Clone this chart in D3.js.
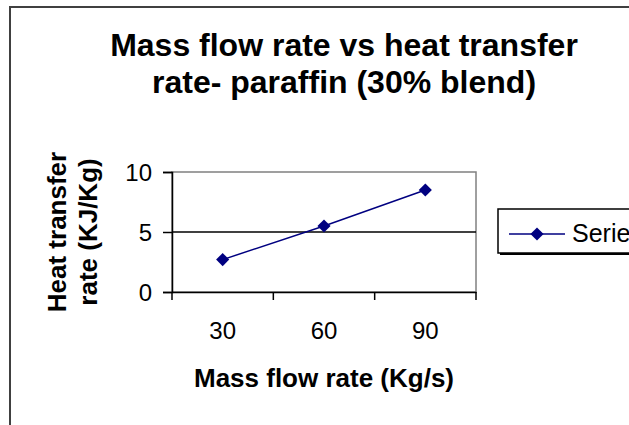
<!DOCTYPE html>
<html lang="en">
<head>
    <meta charset="UTF-8">
    <title>Mass flow rate vs heat transfer rate</title>
    <script type="text/javascript" src="https://cdnjs.cloudflare.com/ajax/libs/d3/7.8.5/d3.min.js"></script>
    <style>
        html, body { margin: 0; padding: 0; background: #fff; overflow: hidden; }
        text { font-family: "Liberation Sans", Arial, sans-serif; }
    </style>
</head>
<body>
    <div id="draw-here"></div>

    <script>
        var w = 629;
        var h = 425;

        // data
        var categories = ["30", "60", "90"];
        var heatRate = [2.7, 5.5, 8.5];
        var yTicks = [0, 5, 10];
        var seriesName = "Series1";
        var titleLines = ["Mass flow rate vs heat transfer", "rate- paraffin (30% blend)"];
        var yTitleLines = ["Heat transfer", "rate (KJ/Kg)"];
        var xTitle = "Mass flow rate (Kg/s)";

        var plot = {left: 172, right: 476, top: 172, bottom: 292};

        var svg = d3.select("#draw-here")
            .append("svg")
            .attr("width", w)
            .attr("height", h);

        // chart area frame (runs off the right and bottom edge)
        svg.append("rect")
            .attr("x", 10).attr("y", 7)
            .attr("width", 700).attr("height", 500)
            .attr("fill", "#fff")
            .attr("stroke", "#404040")
            .attr("stroke-width", 2);

        var x = d3.scaleBand()
            .domain(categories)
            .range([plot.left, plot.right])
            .padding(0);

        var y = d3.scaleLinear()
            .domain([0, 10])
            .range([plot.bottom, plot.top]);

        // plot area border, gray
        svg.append("rect")
            .attr("x", plot.left).attr("y", plot.top)
            .attr("width", plot.right - plot.left)
            .attr("height", plot.bottom - plot.top)
            .attr("fill", "none")
            .attr("stroke", "#808080")
            .attr("stroke-width", 1.5);

        // major gridlines (black), skip the top one which is the border
        svg.selectAll(".grid")
            .data(yTicks.filter(function(d) { return d > 0 && d < 10; }))
            .enter()
            .append("line")
            .attr("x1", plot.left).attr("x2", plot.right)
            .attr("y1", function(d) { return y(d); })
            .attr("y2", function(d) { return y(d); })
            .attr("stroke", "#000")
            .attr("stroke-width", 1.5);

        // y axis
        var yAxis = svg.append("g")
            .attr("transform", "translate(" + plot.left + ",0)")
            .call(d3.axisLeft(y).tickValues(yTicks).tickSize(9).tickPadding(11));
        yAxis.select(".domain").attr("stroke", "#000").attr("stroke-width", 1.5);
        yAxis.selectAll(".tick line").attr("stroke", "#000").attr("stroke-width", 1.5);
        yAxis.selectAll(".tick text")
            .attr("font-size", "24px")
            .attr("font-family", "Liberation Sans, Arial, sans-serif")
            .attr("fill", "#000")
            .attr("dy", "0.36em");

        // x axis: labels centred in each band, ticks on band edges
        var xAxis = svg.append("g")
            .attr("transform", "translate(0," + plot.bottom + ")")
            .call(d3.axisBottom(x).tickSize(0).tickPadding(30));
        xAxis.select(".domain").attr("stroke", "#000").attr("stroke-width", 1.5);
        xAxis.selectAll(".tick text")
            .attr("font-size", "24px")
            .attr("font-family", "Liberation Sans, Arial, sans-serif")
            .attr("fill", "#000");

        var edges = categories.map(function(c) { return x(c); });
        edges.push(x(categories[categories.length - 1]) + x.bandwidth());
        xAxis.selectAll(".edge")
            .data(edges)
            .enter()
            .append("line")
            .attr("x1", function(d) { return d; })
            .attr("x2", function(d) { return d; })
            .attr("y1", 0).attr("y2", 8)
            .attr("stroke", "#000")
            .attr("stroke-width", 1.5);

        // the series
        var pts = categories.map(function(c, i) { return {c: c, v: heatRate[i]}; });
        var line = d3.line()
            .x(function(d) { return x(d.c) + x.bandwidth() / 2; })
            .y(function(d) { return y(d.v); });

        svg.append("path")
            .datum(pts)
            .attr("d", line)
            .attr("fill", "none")
            .attr("stroke", "#000080")
            .attr("stroke-width", 1.5);

        var diamond = d3.symbol().type(d3.symbolDiamond2).size(110);
        svg.selectAll(".pt")
            .data(pts)
            .enter()
            .append("path")
            .attr("d", diamond)
            .attr("transform", function(d) {
                return "translate(" + (x(d.c) + x.bandwidth() / 2) + "," + y(d.v) + ")";
            })
            .attr("fill", "#000080");

        // title
        svg.append("text")
            .attr("text-anchor", "middle")
            .attr("font-size", "32px")
            .attr("font-weight", "bold")
            .attr("fill", "#000")
            .selectAll("tspan")
            .data(titleLines)
            .enter()
            .append("tspan")
            .attr("x", 344)
            .attr("y", function(d, i) { return 56 + i * 37; })
            .text(function(d) { return d; });

        // y axis title
        svg.append("text")
            .attr("text-anchor", "middle")
            .attr("font-size", "26px")
            .attr("font-weight", "bold")
            .attr("fill", "#000")
            .attr("transform", "rotate(-90)")
            .selectAll("tspan")
            .data(yTitleLines)
            .enter()
            .append("tspan")
            .attr("x", -(plot.top + plot.bottom) / 2)
            .attr("y", function(d, i) { return 66 + i * 31; })
            .text(function(d) { return d; });

        // x axis title
        svg.append("text")
            .attr("x", (plot.left + plot.right) / 2)
            .attr("y", 387)
            .attr("text-anchor", "middle")
            .attr("font-size", "26px")
            .attr("font-weight", "bold")
            .attr("fill", "#000")
            .text(xTitle);

        // legend
        var lg = svg.append("g").attr("transform", "translate(498,209)");
        lg.append("rect")
            .attr("x", 2).attr("y", 2)
            .attr("width", 200).attr("height", 44)
            .attr("fill", "#000");
        lg.append("rect")
            .attr("width", 200).attr("height", 44)
            .attr("fill", "#fff")
            .attr("stroke", "#000")
            .attr("stroke-width", 1.5);
        lg.append("line")
            .attr("x1", 11).attr("x2", 67)
            .attr("y1", 25).attr("y2", 25)
            .attr("stroke", "#000080")
            .attr("stroke-width", 1.5);
        lg.append("path")
            .attr("d", diamond)
            .attr("transform", "translate(39,25)")
            .attr("fill", "#000080");
        lg.append("text")
            .attr("x", 74).attr("y", 33)
            .attr("font-size", "25px")
            .attr("fill", "#000")
            .text(seriesName);
    </script>
</body>
</html>
